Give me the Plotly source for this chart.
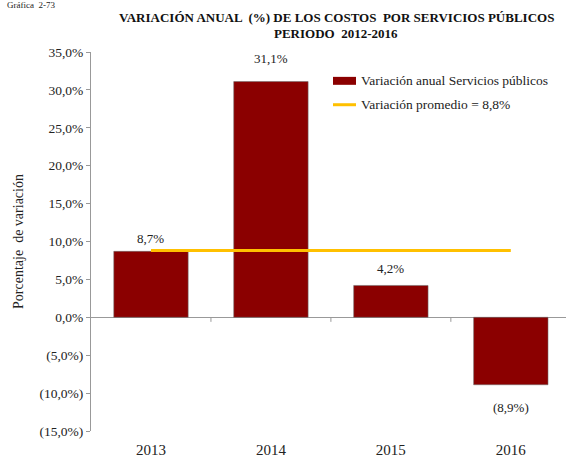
import plotly.graph_objects as go

# Annual variation in utility costs, 2013-2016
years = ["2013", "2014", "2015", "2016"]
variation = [8.7, 31.1, 4.2, -8.9]
average = 8.8
value_labels = ["8,7%", "31,1%", "4,2%", "(8,9%)"]
label_shift = [3, 14, 7, -13]

y_ticks = [35, 30, 25, 20, 15, 10, 5, 0, -5, -10, -15]


def pct_label(v):
    s = f"{abs(v):.1f}".replace(".", ",") + "%"
    return f"({s})" if v < 0 else s


SERIF = "Liberation Serif"
BAR = "#8B0000"
GOLD = "#FFC000"

fig = go.Figure()
fig.add_trace(go.Bar(
    x=years, y=variation, width=0.62,
    marker=dict(color=BAR, line=dict(color="rgba(110,110,110,0.55)", width=1)),
    showlegend=False, hoverinfo="skip",
))
fig.add_trace(go.Scatter(
    x=years, y=[average] * len(years), mode="lines",
    line=dict(color=GOLD, width=3), showlegend=False, hoverinfo="skip",
))

# value labels on each bar (category index positions)
for i, (v, txt, sh) in enumerate(zip(variation, value_labels, label_shift)):
    fig.add_annotation(
        x=i, y=v, xref="x", yref="y", text=txt, showarrow=False,
        yanchor="bottom" if v >= 0 else "top", yshift=sh,
        font=dict(family=SERIF, size=13, color="#222"),
    )

# category separator ticks hanging from the zero line
for i in range(len(years) - 1):
    fig.add_shape(type="line", xref="x", yref="y",
                  x0=i + 0.5, x1=i + 0.5, y0=0, y1=-0.6,
                  line=dict(color="#999", width=1))

# legend
W, H = 566, 458
L, T, B = 91, 52, 25
pw, ph = W - L, H - T - B


def px(x):
    return (x - L) / pw


def py(y):
    return 1 - (y - T) / ph


fig.add_shape(type="rect", xref="paper", yref="paper",
              x0=px(333), x1=px(356), y0=py(77), y1=py(85),
              fillcolor=BAR, line=dict(width=0))
fig.add_shape(type="line", xref="paper", yref="paper",
              x0=px(333), x1=px(356), y0=py(105), y1=py(105),
              line=dict(color=GOLD, width=3))
fig.add_annotation(xref="paper", yref="paper", x=px(359), y=py(81),
                   text="Variación anual Servicios públicos", showarrow=False,
                   xanchor="left", yanchor="middle",
                   font=dict(family=SERIF, size=13.5, color="#222"))
fig.add_annotation(xref="paper", yref="paper", x=px(359), y=py(105),
                   text="Variación promedio = 8,8%", showarrow=False,
                   xanchor="left", yanchor="middle",
                   font=dict(family=SERIF, size=13.5, color="#222"))

# titles
fig.add_annotation(xref="paper", yref="paper", x=px(5), y=py(5),
                   text="Gráfica  2-73", showarrow=False,
                   xanchor="left", yanchor="middle",
                   font=dict(family=SERIF, size=9, color="#222"))
fig.add_annotation(xref="paper", yref="paper", x=px(336), y=py(17),
                   text="<b>VARIACIÓN ANUAL  (%) DE LOS COSTOS  POR SERVICIOS PÚBLICOS</b>",
                   showarrow=False, xanchor="center", yanchor="middle",
                   font=dict(family=SERIF, size=13, color="#111"))
fig.add_annotation(xref="paper", yref="paper", x=px(336), y=py(33),
                   text="<b>PERIODO  2012-2016</b>",
                   showarrow=False, xanchor="center", yanchor="middle",
                   font=dict(family=SERIF, size=13, color="#111"))

fig.update_layout(
    width=W, height=H,
    margin=dict(l=L, r=0, t=T, b=B),
    paper_bgcolor="white", plot_bgcolor="white",
    bargap=0.38,
    font=dict(family=SERIF, color="#222"),
    xaxis=dict(
        type="category", range=[-0.5, 3.46],
        showline=False, showgrid=False, zeroline=False, ticks="",
        ticklabelstandoff=8,
        tickfont=dict(family=SERIF, size=15, color="#222"),
    ),
    yaxis=dict(
        range=[-15, 35], tickvals=y_ticks, ticktext=[pct_label(v) for v in y_ticks],
        showgrid=False, showline=True, linecolor="#999", linewidth=1,
        ticks="outside", ticklen=4, tickcolor="#999",
        zeroline=True, zerolinecolor="#999", zerolinewidth=1,
        tickfont=dict(family=SERIF, size=13.5, color="#222"),
        title=dict(text="Porcentaje  de variación", standoff=12,
                   font=dict(family=SERIF, size=14, color="#222")),
    ),
)

fig.write_html("out.html")
